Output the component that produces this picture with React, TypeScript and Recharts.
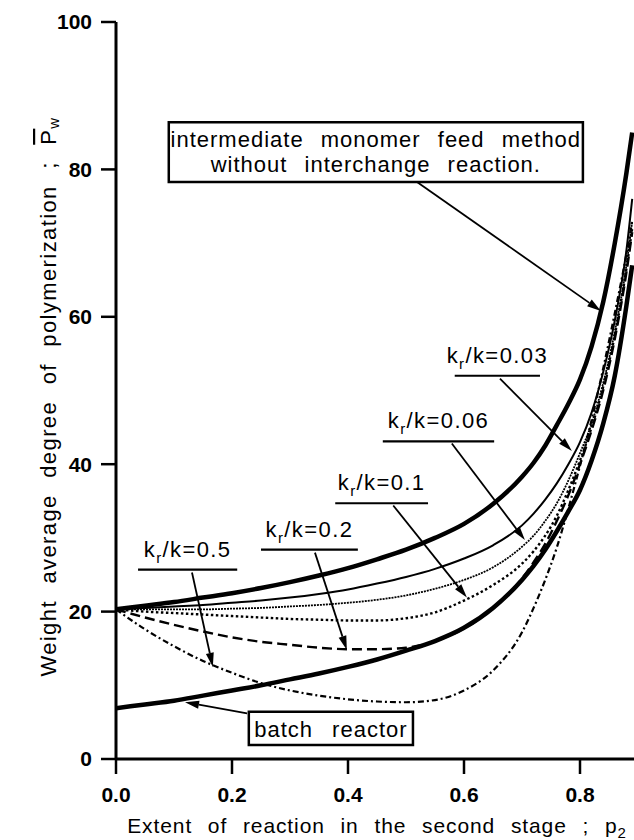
import React from 'react';
import { LineChart, Line, XAxis, YAxis, ReferenceLine, ReferenceArea } from 'recharts';

// extent of reaction in the second stage, p2
const p2 = [0, 0.05, 0.1, 0.15, 0.2, 0.25, 0.3, 0.35, 0.4, 0.45, 0.5, 0.55, 0.6, 0.65, 0.7, 0.72, 0.74, 0.76, 0.78, 0.8, 0.82, 0.84, 0.86, 0.88, 0.89];

// weight average degree of polymerization for each case
const noInterchange = [20.3, 20.8, 21.3, 21.9, 22.5, 23.2, 24.0, 24.9, 25.9, 27.1, 28.4, 30.0, 31.9, 34.6, 38.3, 40.2, 42.5, 45.3, 48.2, 51.5, 56, 62, 70, 79.5, 85];
const kr003 = [20.3, 20.5, 20.7, 20.9, 21.2, 21.5, 21.9, 22.4, 23.0, 23.8, 24.7, 25.8, 27.2, 29.0, 31.7, 33.3, 35.2, 37.4, 40.0, 43.0, 47, 52.5, 59.5, 69, 76];
const kr006 = [20.3, 20.3, 20.3, 20.3, 20.4, 20.5, 20.7, 20.9, 21.2, 21.6, 22.2, 23.1, 24.3, 26.0, 28.8, 30.3, 32.3, 34.7, 37.8, 41.5, 45.5, 51, 58, 67, 73];
const kr01 = [20.3, 20.0, 19.8, 19.6, 19.4, 19.2, 19.0, 18.9, 18.8, 18.8, 19.1, 19.9, 21.5, 23.6, 26.5, 28.2, 30.3, 33.0, 36.5, 40.5, 45, 50.5, 57.5, 66.5, 72];
const kr02 = [20.3, 19.2, 18.2, 17.3, 16.5, 15.9, 15.5, 15.1, 14.9, 14.9, 15.1, 16.0, 17.7, 20.5, 24.5, 26.7, 29.2, 32.3, 35.8, 40, 44.6, 50, 57, 66, 71.5];
const kr05 = [20.3, 17.6, 15.3, 13.3, 11.7, 10.3, 9.3, 8.6, 8.1, 7.8, 7.7, 8.0, 9.3, 12.0, 17.2, 20.5, 24.3, 28.7, 34, 39.8, 46, 53, 60.5, 68.5, 73];
const batch = [6.9, 7.4, 7.9, 8.6, 9.3, 10.0, 10.8, 11.6, 12.5, 13.5, 14.7, 16.0, 17.8, 20.5, 24.3, 26.2, 28.4, 30.9, 33.6, 36.5, 40.5, 45.5, 52, 61.5, 67];

const xTicks = [0, 0.2, 0.4, 0.6, 0.8];
const yTicks = [0, 20, 40, 60, 80, 100];

// k_r/k callouts: underline span, underline height, arrow start and arrow tip (data units)
const ratioLabels = [
  { ratio: '0.03', x1: 0.584, x2: 0.731, y: 52.0, from: [0.662, 51.6], to: [0.786, 41.8] },
  { ratio: '0.06', x1: 0.46, x2: 0.652, y: 43.1, from: [0.579, 42.8], to: [0.705, 29.7] },
  { ratio: '0.1', x1: 0.378, x2: 0.538, y: 34.7, from: [0.478, 34.4], to: [0.605, 21.9] },
  { ratio: '0.2', x1: 0.25, x2: 0.417, y: 28.4, from: [0.343, 28.0], to: [0.398, 14.8] },
  { ratio: '0.5', x1: 0.038, x2: 0.209, y: 25.7, from: [0.131, 25.3], to: [0.167, 12.5] },
];

const rows = p2.map((p, i) => ({
  p,
  noInterchange: noInterchange[i],
  kr003: kr003[i],
  kr006: kr006[i],
  kr01: kr01[i],
  kr02: kr02[i],
  kr05: kr05[i],
  batch: batch[i],
}));

const FONT = '"Liberation Sans", Arial, Helvetica, sans-serif';

function Arrow(props: any) {
  const { x1, y1, x2, y2 } = props;
  const ang = Math.atan2(y2 - y1, x2 - x1);
  const len = 14;
  const half = 4;
  const bx = x2 - len * Math.cos(ang);
  const by = y2 - len * Math.sin(ang);
  const nx = -Math.sin(ang) * half;
  const ny = Math.cos(ang) * half;
  return (
    <g>
      <line x1={x1} y1={y1} x2={bx} y2={by} stroke="#000" strokeWidth={1.8} />
      <polygon points={`${x2},${y2} ${bx + nx},${by + ny} ${bx - nx},${by - ny}`} fill="#000" />
    </g>
  );
}

function RatioText({ viewBox, ratio }: any) {
  const cx = viewBox.x + viewBox.width / 2;
  return (
    <text x={cx} y={viewBox.y - 13} textAnchor="middle" fontFamily={FONT} fontSize={22} letterSpacing={1.4} fill="#000">
      k<tspan dy={6} fontSize={15}>r</tspan>
      <tspan dy={-6}>/k={ratio}</tspan>
    </text>
  );
}

function FeedBoxText({ viewBox }: any) {
  const cx = viewBox.x + viewBox.width / 2;
  return (
    <text textAnchor="middle" fontFamily={FONT} fontSize={22} letterSpacing={1} wordSpacing={10} fill="#000">
      <tspan x={cx} y={viewBox.y + 25}>intermediate monomer feed method</tspan>
      <tspan x={cx} y={viewBox.y + 50}>without interchange reaction.</tspan>
    </text>
  );
}

function BatchBoxText({ viewBox }: any) {
  return (
    <text x={viewBox.x + viewBox.width / 2} y={viewBox.y + 25} textAnchor="middle" fontFamily={FONT} fontSize={22}
      letterSpacing={1} wordSpacing={12} fill="#000">
      batch reactor
    </text>
  );
}

function XTitle({ viewBox }: any) {
  return (
    <text x={viewBox.x + viewBox.width / 2} y={viewBox.y + 74} textAnchor="middle" fontFamily={FONT} fontSize={21}
      letterSpacing={0.9} wordSpacing={9} fill="#000">
      Extent of reaction in the second stage ; p<tspan dy={5} fontSize={15}>2</tspan>
    </text>
  );
}

function YTitle({ viewBox }: any) {
  const cx = viewBox.x + 48;
  const cy = viewBox.y + viewBox.height / 2 + 6;
  return (
    <text x={cx} y={cy} transform={`rotate(-90 ${cx} ${cy})`} textAnchor="middle" dominantBaseline="central"
      fontFamily={FONT} fontSize={22} letterSpacing={1.4} wordSpacing={9} fill="#000">
      Weight average degree of polymerization ; <tspan style={{ textDecoration: 'overline' }}>P</tspan>
      <tspan dy={5} fontSize={15}>w</tspan>
    </text>
  );
}

export default function App() {
  return (
    <div style={{ position: 'absolute', left: 0, top: 0, width: 634, height: 840, overflow: 'hidden', background: '#fff' }}>
      <LineChart width={660} height={840} data={rows} margin={{ top: 22, right: 22, bottom: 0, left: 0 }}>
        <XAxis dataKey="p" type="number" domain={[0, 0.9]} allowDataOverflow ticks={xTicks}
          tickFormatter={(v: number) => v.toFixed(1)} height={81} tickSize={15} tickMargin={13}
          axisLine={{ stroke: '#000', strokeWidth: 3 }} tickLine={{ stroke: '#000', strokeWidth: 2.5 }}
          tick={{ fill: '#000', fontSize: 21, fontWeight: 'bold', fontFamily: FONT }} label={<XTitle />} />
        <YAxis type="number" domain={[0, 100]} ticks={yTicks} width={116} tickSize={15} tickMargin={9}
          axisLine={{ stroke: '#000', strokeWidth: 3 }} tickLine={{ stroke: '#000', strokeWidth: 2.5 }}
          tick={{ fill: '#000', fontSize: 21, fontWeight: 'bold', fontFamily: FONT }} label={<YTitle />} />

        <Line dataKey="kr05" type="monotone" stroke="#000" strokeWidth={2.2} strokeDasharray="6 3 2 3" dot={false} isAnimationActive={false} />
        <Line dataKey="kr02" type="monotone" stroke="#000" strokeWidth={2.4} strokeDasharray="10 5" dot={false} isAnimationActive={false} />
        <Line dataKey="kr01" type="monotone" stroke="#000" strokeWidth={2.4} strokeDasharray="2.5 2.5" dot={false} isAnimationActive={false} />
        <Line dataKey="kr006" type="monotone" stroke="#000" strokeWidth={1.8} strokeDasharray="2 1" dot={false} isAnimationActive={false} />
        <Line dataKey="kr003" type="monotone" stroke="#000" strokeWidth={2} dot={false} isAnimationActive={false} />
        <Line dataKey="batch" type="monotone" stroke="#000" strokeWidth={4.5} dot={false} isAnimationActive={false} />
        <Line dataKey="noInterchange" type="monotone" stroke="#000" strokeWidth={4.5} dot={false} isAnimationActive={false} />

        {ratioLabels.map((r) => (
          <ReferenceLine key={`u-${r.ratio}`} segment={[{ x: r.x1, y: r.y }, { x: r.x2, y: r.y }]}
            stroke="#000" strokeWidth={2.2} label={(props: any) => <RatioText {...props} ratio={r.ratio} />} />
        ))}
        {ratioLabels.map((r) => (
          <ReferenceLine key={`a-${r.ratio}`} segment={[{ x: r.from[0], y: r.from[1] }, { x: r.to[0], y: r.to[1] }]}
            shape={Arrow} />
        ))}

        <ReferenceArea x1={0.091} x2={0.805} y1={78.3} y2={86.4} fill="#fff" fillOpacity={1} stroke="#000" strokeWidth={2.5}
          label={(props: any) => <FeedBoxText {...props} />} />
        <ReferenceLine segment={[{ x: 0.519, y: 78.3 }, { x: 0.836, y: 60.8 }]} shape={Arrow} />

        <ReferenceArea x1={0.229} x2={0.512} y1={1.9} y2={6.4} fill="#fff" fillOpacity={1} stroke="#000" strokeWidth={2.5}
          label={(props: any) => <BatchBoxText {...props} />} />
        <ReferenceLine segment={[{ x: 0.226, y: 6.2 }, { x: 0.119, y: 7.7 }]} shape={Arrow} />
      </LineChart>
    </div>
  );
}
